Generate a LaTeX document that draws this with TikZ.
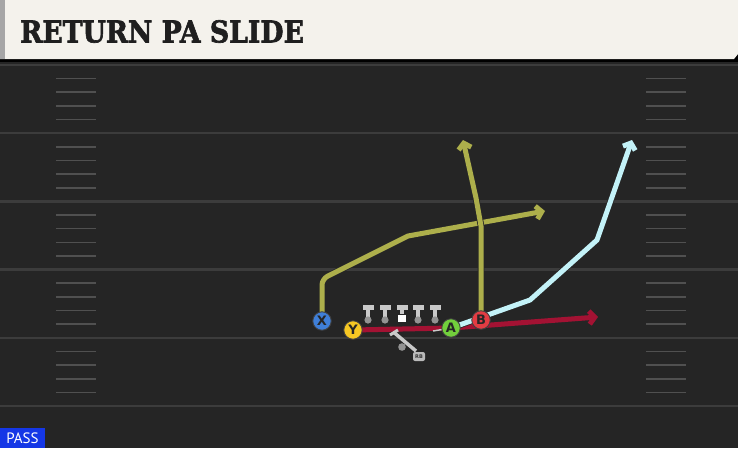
\documentclass[tikz,border=0pt]{standalone}
\usepackage{fontspec}
\usetikzlibrary{arrows.meta, calc}
\newfontfamily\titlefont{DejaVu Serif}[FakeBold=2.2]
\newfontfamily\tagfont{DejaVu Sans}
\newfontfamily\passfont{PT Sans}

\definecolor{fieldbg}{HTML}{252525}
\definecolor{yardcol}{HTML}{3C3C3C}
\definecolor{titlebg}{HTML}{F4F2EC}
\definecolor{olive}{HTML}{ADAF4B}
\definecolor{skyroute}{HTML}{C3F2F8}
\definecolor{crimson}{HTML}{A31233}
\definecolor{xblue}{HTML}{3F7FD8}
\definecolor{yyellow}{HTML}{F6C723}
\definecolor{agreen}{HTML}{72CF3C}
\definecolor{bred}{HTML}{E23C43}
\definecolor{olgray}{HTML}{C9C9C9}
\definecolor{passblue}{HTML}{1537E6}

\pgfdeclarelayer{field}
\pgfdeclarelayer{routes}
\pgfsetlayers{field,routes,main}

\tikzset{
  yardline/.style={yardcol, line width=2.5},
  hashline/.style={yardcol!90!white, line width=1.6},
  player/.style={circle, draw=black!75, line width=0.9, minimum size=18.5, inner sep=0,
    font=\tagfont\bfseries\fontsize{13}{13}\selectfont, text=black!85},
  route/.style={line width=5, line join=round, -{Straight Barb[length=5.5,width=13]},
    preaction={draw=black!85, line width=6.6}},
}

\begin{document}
\begin{tikzpicture}[x=1pt, y=-1pt]
\useasboundingbox (0,0) rectangle (738,448);

\begin{pgfonlayer}{field}
  % field and markings
  \fill[fieldbg] (0,0) rectangle (738,448);
  \foreach \y in {65,133.2,201.4,269.6,337.8,406}
    \draw[yardline] (0,\y) -- (738,\y);
  \foreach \i in {0,...,4}
    \foreach \j in {1,...,4} {
      \draw[hashline] (56,65+68.2*\i+13.64*\j) -- (96,65+68.2*\i+13.64*\j);
      \draw[hashline] (646,65+68.2*\i+13.64*\j) -- (686,65+68.2*\i+13.64*\j);
    }
  % title band
  \fill[black] (0,0) rectangle (738,62);
  \fill[titlebg] (0,0) -- (738,0) -- (738,54) -- (734,59) -- (0,59) -- cycle;
  \fill[gray!70] (0,0) rectangle (5,59);
  \node[anchor=west, inner sep=0, text=black!88, xscale=0.89,
    font=\titlefont\bfseries\fontsize{30}{30}\selectfont] (title) at (20,31.5) {RETURN PA SLIDE};
  % play type tag
  \fill[passblue] (0,428) rectangle (45,448);
  \node[text=white, inner sep=0, font=\passfont\fontsize{15}{15}\selectfont] (pass) at (22.5,438.5) {PASS};
\end{pgfonlayer}

% offensive line
\foreach \x in {368,385,418,435} {
  \fill[olgray] (\x-5.5,305) rectangle (\x+5.5,309.5);
  \fill[olgray] (\x-2,309) rectangle (\x+2,318);
  \fill[gray!85] (\x,320) circle (3.6);
}
\fill[olgray] (396.5,305) rectangle (407.5,309.5);
\fill[olgray] (400,309) rectangle (404,314);
\fill[white] (398,314.5) rectangle (405.5,322);

% running back
\draw[olgray, line width=3] (390,335) -- (398,330);
\draw[olgray, line width=3.5] (394,332.5) -- (416,351);
\fill[gray!85] (402,347) circle (3.8);
\node[fill=olgray!80!gray, rounded corners=2, inner sep=0, minimum width=12, minimum height=9,
  text=black!80, font=\tagfont\bfseries\fontsize{5}{5}\selectfont] (rb) at (419,356.5) {RB};

% skill players
\node[player, fill=xblue] (X) at (322,321) {X};
\node[player, fill=yyellow] (Y) at (353,330) {Y};
\node[player, fill=agreen] (A) at (451,328) {A};
\node[player, fill=bred] (B) at (481,320) {B};

\coordinate (xTip) at (545,211);
\coordinate (bTip) at (463,140);
\coordinate (aTip) at (632,140);
\coordinate (yTip) at (598,317);

\begin{pgfonlayer}{routes}
  \draw[route, crimson] (Y.center) -- (A.center) -- (yTip);
  \draw[route, skyroute] (A.center) -- (530,300) -- (597,240) -- (aTip);
  \draw[olgray, line width=1.5] (433,331) -- (A.center);
  \draw[route, olive, rounded corners=6] (X.center) -- (322,279) [sharp corners] -- (408,236) -- (xTip);
  \draw[route, olive] (B.center) -- (481,226) -- (476,198) -- (bTip);
\end{pgfonlayer}
\end{tikzpicture}
\end{document}
